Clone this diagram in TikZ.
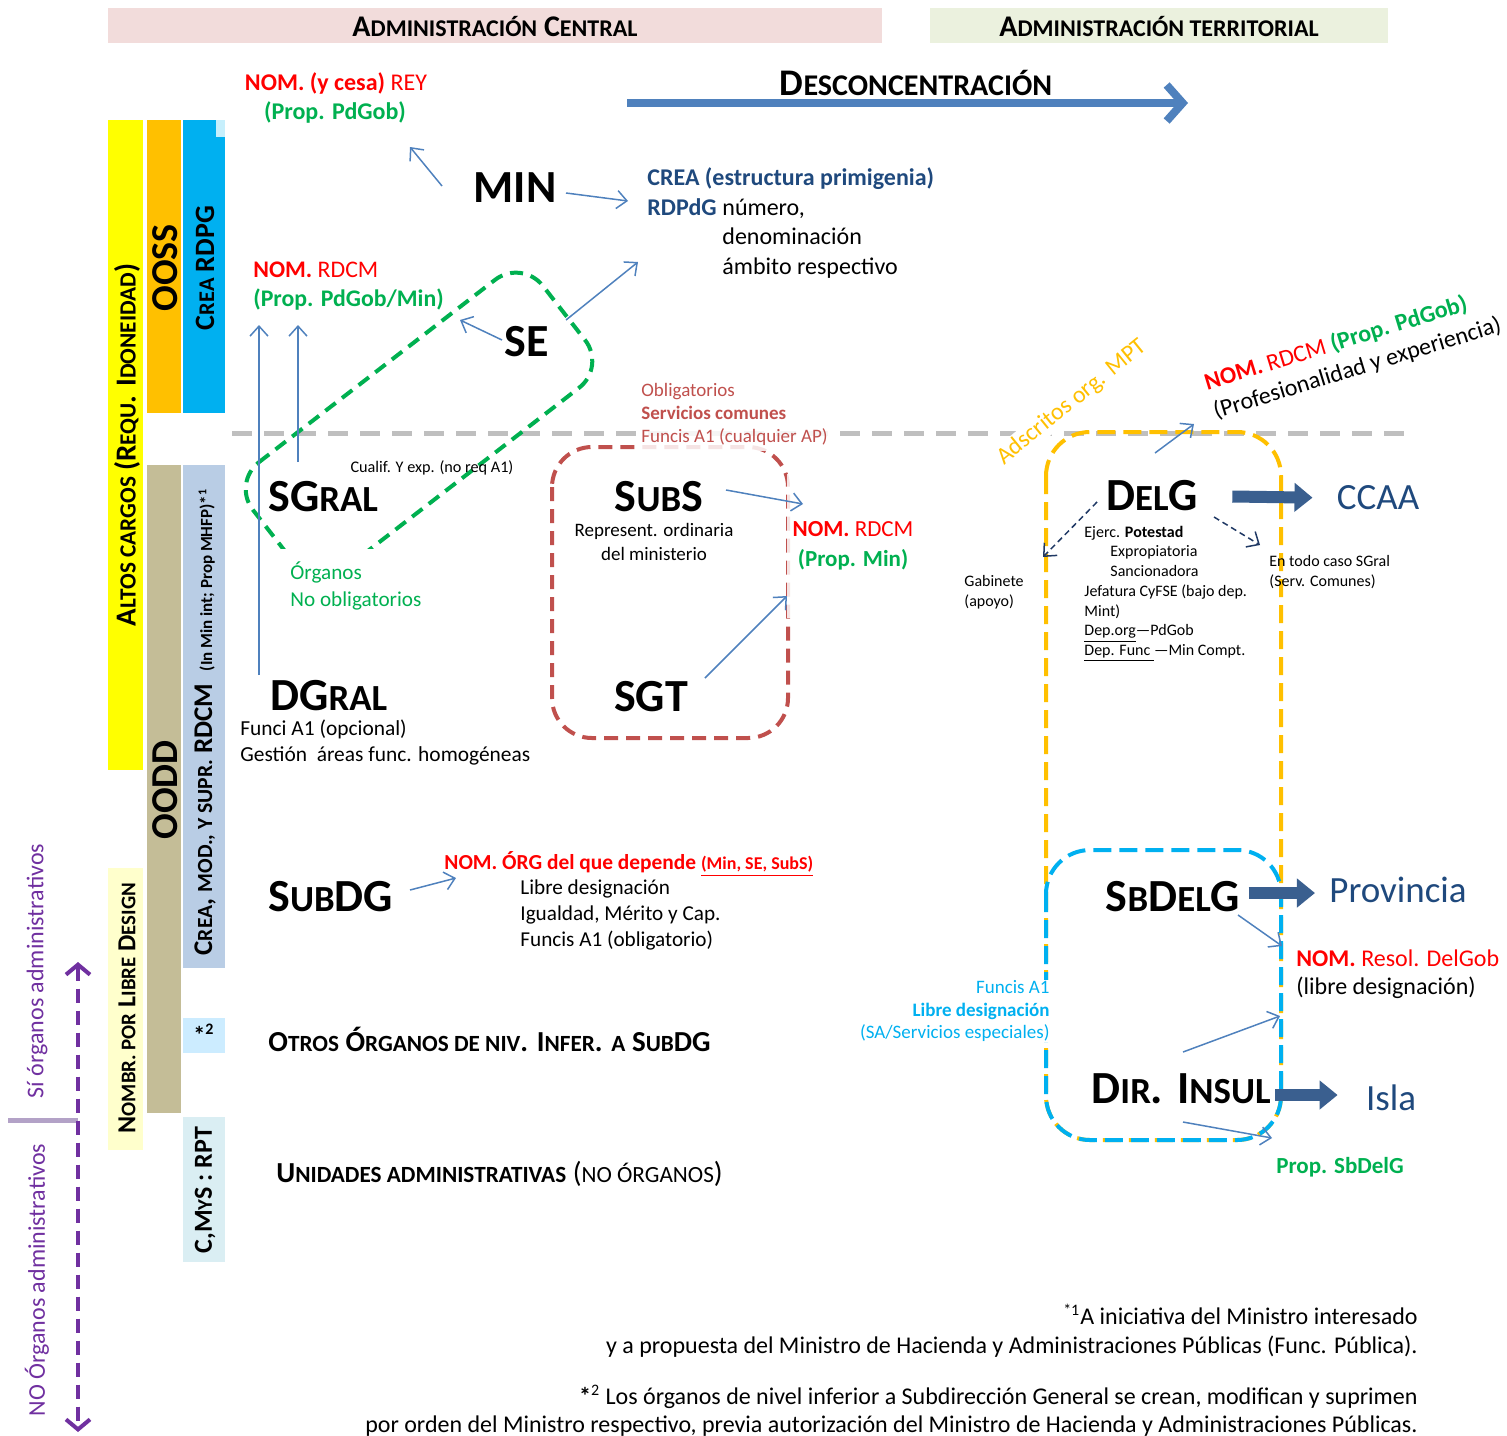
\documentclass[tikz,border=0pt]{standalone}
\usepackage{fontspec}
\setmainfont{Carlito}
\usetikzlibrary{arrows.meta}

\definecolor{hdrpink}{HTML}{F2DCDB}
\definecolor{hdrgreen}{HTML}{EBF1DE}
\definecolor{cyellow}{HTML}{FFFF00}
\definecolor{corange}{HTML}{FFC000}
\definecolor{ccyan}{HTML}{00B0F0}
\definecolor{cpalecyan}{HTML}{C6EFFC}
\definecolor{ctan}{HTML}{C4BD97}
\definecolor{csteel}{HTML}{B9CDE5}
\definecolor{cpale}{HTML}{FFFFCC}
\definecolor{cstar}{HTML}{CCECFF}
\definecolor{crpt}{HTML}{DAEEF3}
\definecolor{nomred}{HTML}{FF0000}
\definecolor{propgreen}{HTML}{00B050}
\definecolor{navy}{HTML}{1F497D}
\definecolor{brick}{HTML}{C0504D}
\definecolor{arrblue}{HTML}{4F81BD}
\definecolor{fatblue}{HTML}{3A5F8F}
\definecolor{dashnavy}{HTML}{1F3864}
\definecolor{purp}{HTML}{7030A0}
\definecolor{lilac}{HTML}{B3A2C7}
\definecolor{greyline}{HTML}{BFBFBF}

% fake small caps
\newcommand\sck[1]{\scalebox{0.8}{#1}}

\begin{document}
\begin{tikzpicture}[x=0.5pt, y=-0.5pt,
    big/.style={font=\fontsize{23}{26}\selectfont\bfseries, inner sep=0pt},
    body/.style={font=\fontsize{11.5}{14.7}\selectfont, align=left, inner sep=0pt},
    note/.style={font=\fontsize{8}{9.85}\selectfont, align=left, inner sep=0pt},
    mid/.style={font=\fontsize{9.5}{11.5}\selectfont, align=left, inner sep=0pt},
    sc/.style={font=\fontsize{15}{18}\selectfont\bfseries, inner sep=0pt},
    barlabel/.style={rotate=90, font=\fontsize{#1}{#1}\selectfont\bfseries, inner sep=0pt},
    place/.style={font=\fontsize{18.5}{22}\selectfont, text=navy, inner sep=0pt},
    veil/.style={fill=white, fill opacity=0.85, text opacity=1},
    link/.style={draw=arrblue, line width=0.75pt, -{Straight Barb[length=5pt,width=9pt]}},
    hint/.style={draw=dashnavy, line width=0.75pt, dash pattern=on 3pt off 2pt, -{Straight Barb[length=5pt,width=9pt]}},
    fat/.style={draw=fatblue, line width=6pt, -{Triangle[length=9pt,width=14pt]}},
    ]
\useasboundingbox (0,0) rectangle (1507,1435);

% headers
\fill[hdrpink] (108,8) rectangle (882,43);
\fill[hdrgreen] (930,8) rectangle (1388,43);

% left bars
\fill[cyellow] (108,120) rectangle (143,770);
\fill[corange] (147,120) rectangle (181,413);
\fill[ccyan] (183,120) rectangle (225,413);
\fill[cpalecyan] (216,120) rectangle (225,137);
\fill[ctan] (147,465) rectangle (181,1113);
\fill[csteel] (183,465) rectangle (225,968);
\fill[cpale] (108,868) rectangle (143,1150);
\fill[cstar] (183,1018) rectangle (225,1053);
\fill[crpt] (183,1117) rectangle (225,1262);

% level line
\draw[greyline, line width=2.5pt, dash pattern=on 10pt off 6pt] (232,433) -- (1405,433);

% groups
\begin{scope}
  \clip (0,0) rectangle (1507,548);
  \draw[propgreen, line width=2pt, dash pattern=on 6.5pt off 4pt, rounded corners=17pt]
    (232,483) -- (522,259) -- (606,367) -- (316,591) -- cycle;
\end{scope}
\draw[brick, line width=2pt, dash pattern=on 7pt off 4pt, rounded corners=20pt] (552,447) rectangle (788,738);
\draw[corange, line width=2pt, dash pattern=on 9pt off 4pt, rounded corners=22pt] (1046,432) rectangle (1281,1140);
\draw[ccyan, line width=2pt, dash pattern=on 9pt off 4pt, rounded corners=22pt] (1046,850) rectangle (1281,1140);

% si / no organos
\draw[lilac, line width=2.5pt] (8,1120) -- (78,1120);
\coordinate (siTop) at (78,962);
\coordinate (noBot) at (78,1432);
\draw[purp, line width=2pt, dash pattern=on 7pt off 4pt,
  {Straight Barb[length=5pt,width=12pt]}-{Straight Barb[length=5pt,width=12pt]}] (siTop) -- (noBot);
\node[rotate=90, text=purp, font=\fontsize{12}{12}\selectfont, inner sep=0pt] (si) at (37,971) {Sí órganos administrativos};
\node[rotate=90, text=purp, font=\fontsize{12}{12}\selectfont, inner sep=0pt] (no) at (37,1280) {NO Órganos administrativos};

% bar labels
\node[barlabel=14.5] (altos) at (127,445) {A\sck{LTOS CARGOS} (R\sck{EQU}. I\sck{DONEIDAD})};
\node[barlabel=19] (ooss) at (165,268) {OOSS};
\node[barlabel=14] (rdpg) at (205,268) {C\sck{REA} RDPG};
\node[barlabel=19] (oodd) at (165,790) {OODD};
\node[barlabel=13.5] (rdcm) at (205,722) {C\sck{REA}, \sck{MOD., Y SUPR.} RDCM\ \ {\fontsize{8.5}{8.5}\selectfont(In Min int; Prop MHFP)*\textsuperscript{1}}};
\node[barlabel=13] (libre) at (127,1008) {N\sck{OMBR. POR} L\sck{IBRE} D\sck{ESIGN}};
\node[font=\fontsize{12}{12}\selectfont\bfseries, inner sep=0pt] (star2) at (204,1034) {*\textsuperscript{2}};
\node[barlabel=13] (rpt) at (205,1190) {C,M\sck{Y}S : RPT};

% headers text
\node[sc] (central) at (495,27) {A\sck{DMINISTRACIÓN} C\sck{ENTRAL}};
\node[sc] (territorial) at (1159,27) {A\sck{DMINISTRACIÓN TERRITORIAL}};
\node[sc, font=\fontsize{18.8}{22}\selectfont\bfseries] (desc) at (916,83) {D\sck{ESCONCENTRACIÓN}};
\coordinate (descA) at (627,103);
\coordinate (descB) at (1188,103);
\draw[arrblue, line width=4pt, -{Straight Barb[length=8pt,width=18pt]}] (descA) -- (descB);

% central administration
\node[font=\fontsize{12}{14}\selectfont, text=nomred, inner sep=0pt] (rey) at (336,83) {\textbf{NOM. (y cesa)} REY};
\node[font=\fontsize{12}{14}\selectfont\bfseries, text=propgreen, inner sep=0pt] (reyprop) at (335,112) {(Prop. PdGob)};
\node[big] (min) at (515,188) {MIN};
\node[body, font=\fontsize{12}{14.7}\selectfont, anchor=west] (crea) at (647,223) {\textcolor{navy}{\textbf{CREA (estructura primigenia)}}\\
  \makebox[37.5pt][l]{\textcolor{navy}{\textbf{RDPdG}}}número,\\
  \hspace*{37.5pt}denominación\\
  \hspace*{37.5pt}ámbito respectivo};
\node[body, font=\fontsize{11.9}{14.5}\selectfont, anchor=west] (nomse) at (253,286) {\textcolor{nomred}{\textbf{NOM.} RDCM}\\\textcolor{propgreen}{\textbf{(Prop. PdGob/Min)}}};
\node[big] (se) at (527,342) {SE};
\node[big, anchor=west] (sgral) at (268,497) {SG\sck{RAL}};
\node[font=\fontsize{8.1}{10}\selectfont, inner sep=0pt] (cualif) at (432,468) {Cualif. Y exp. (no req A1)};
\node[body, font=\fontsize{10.6}{13.5}\selectfont, text=propgreen, anchor=west] (organos) at (290,586) {Órganos\\No obligatorios};
\node[big, anchor=west] (dgral) at (270,696) {DG\sck{RAL}};
\node[body, font=\fontsize{10.7}{13}\selectfont, anchor=west] (funci) at (240,742) {Funci A1 (opcional)\\Gestión\ \ áreas func. homogéneas};
\node[mid, veil, inner ysep=3pt, text=brick, anchor=west] (oblig) at (641,414) {Obligatorios\\\textbf{Servicios comunes}\\Funcis A1 (cualquier AP)};
\node[big] (subs) at (659,497) {S\sck{UB}S};
\node[mid, align=center, font=\fontsize{9.5}{12}\selectfont] (repres) at (654,542) {Represent. ordinaria\\del ministerio};
\node[big] (sgt) at (651,697) {SGT};
\node[body, veil, inner xsep=3pt, minimum height=72pt, align=center, font=\fontsize{11.5}{15}\selectfont] (nomsubs) at (853,546) {\textcolor{nomred}{\textbf{NOM.} RDCM}\\\textcolor{propgreen}{\textbf{(Prop. Min)}}};
\node[big, anchor=west] (subdg) at (268,897) {S\sck{UB}DG};
\node[font=\fontsize{10.7}{13}\selectfont\bfseries, text=nomred, inner sep=0pt, anchor=west] (nomorg) at (444,864) {NOM. ÓRG del que depende {\fontsize{9}{9}\selectfont\underline{(Min, SE, SubS)}}};
\node[body, font=\fontsize{10.6}{13}\selectfont, anchor=west] (libredes) at (520,915) {Libre designación\\Igualdad, Mérito y Cap.\\Funcis A1 (obligatorio)};
\node[sc, font=\fontsize{14.5}{17}\selectfont\bfseries, anchor=west] (otros) at (268,1039) {O\sck{TROS} Ó\sck{RGANOS DE NIV}. I\sck{NFER}. \sck{A} S\sck{UB}DG};
\node[sc, font=\fontsize{14.5}{17}\selectfont\bfseries, anchor=west] (unidades) at (276,1174) {U\sck{NIDADES ADMINISTRATIVAS} {\mdseries(\sck{NO ÓRGANOS})}};

% territorial administration
\node[rotate=39, text=corange, fill=white, inner sep=1pt, font=\fontsize{12}{12}\selectfont] (adscritos) at (1072,402) {Adscritos org. MPT};
\node[rotate=17, body, font=\fontsize{12}{15}\selectfont, anchor=south west] (nomdelg) at (1217,423) {\textcolor{nomred}{\textbf{NOM.} RDCM} \textcolor{propgreen}{\textbf{(Prop. PdGob)}}\\(Profesionalidad y experiencia)};
\node[big] (delg) at (1152,496) {D\sck{EL}G};
\node[place] (ccaa) at (1378,498) {CCAA};
\node[note, anchor=west] (potestad) at (1084,594) {Ejerc. \textbf{Potestad}\\
  \hspace*{13pt}Expropiatoria\\
  \hspace*{13pt}Sancionadora\\
  Jefatura CyFSE (bajo dep.\\
  Mint)\\
  \underline{Dep.org}—PdGob\\
  \underline{Dep. Func }—Min Compt.};
\node[note, anchor=west] (gabinete) at (964,592) {Gabinete\\(apoyo)};
\node[note, anchor=west] (todocaso) at (1269,572) {En todo caso SGral\\(Serv. Comunes)};
\node[big] (sbdelg) at (1173,897) {S\sck{B}D\sck{EL}G};
\node[place] (provincia) at (1398,890) {Provincia};
\node[body, font=\fontsize{12}{14}\selectfont, anchor=west] (resol) at (1296,974) {\textcolor{nomred}{\textbf{NOM.} Resol. DelGob}\\(libre designación)};
\node[mid, align=right, text=ccyan, anchor=east, fill=white, font=\fontsize{9.5}{11.25}\selectfont] (funcis) at (1050,1011) {Funcis A1\\\textbf{Libre designación}\\(SA/Servicios especiales)};
\node[big] (dirinsul) at (1181,1089) {D\sck{IR}. I\sck{NSUL}};
\node[place] (isla) at (1391,1098) {Isla};
\node[font=\fontsize{11.5}{14}\selectfont\bfseries, text=propgreen, inner sep=0pt] (propsb) at (1340,1167) {Prop. SbDelG};

% footnotes
\node[body, align=right, anchor=east, font=\fontsize{12}{14.5}\selectfont] (nota1) at (1418,1331) {\textsuperscript{*1}A iniciativa del Ministro interesado\\y a propuesta del Ministro de Hacienda y Administraciones Públicas (Func. Pública).};
\node[body, align=right, anchor=east, font=\fontsize{12}{14}\selectfont] (nota2) at (1418,1411) {\textbf{*}\textsuperscript{2} Los órganos de nivel inferior a Subdirección General se crean, modifican y suprimen\\por orden del Ministro respectivo, previa autorización del Ministro de Hacienda y Administraciones Públicas.};

% arrow ends
\coordinate (minA) at (442,186);  \coordinate (reyT) at (410,147);
\coordinate (minB) at (566,193);  \coordinate (creaT) at (628,201);
\coordinate (seA) at (566,320);   \coordinate (creaU) at (638,262);
\coordinate (seB) at (502,340);   \coordinate (nomseT) at (460,320);
\coordinate (dgA) at (259,675);   \coordinate (dgT) at (259,325);
\coordinate (sgA) at (298,462);   \coordinate (sgT) at (298,325);
\coordinate (subsA) at (726,490); \coordinate (subsT) at (803,504);
\coordinate (sgtA) at (705,678);  \coordinate (sgtT) at (787,596);
\coordinate (subdgA) at (410,890); \coordinate (subdgT) at (456,878);
\coordinate (delgA) at (1155,453); \coordinate (delgT) at (1194,424);
\coordinate (delgL) at (1097,502); \coordinate (gabT) at (1043,557);
\coordinate (delgR) at (1214,517); \coordinate (todoT) at (1260,545);
\coordinate (sbA) at (1238,915);  \coordinate (sbT) at (1282,946);
\coordinate (diA) at (1183,1052); \coordinate (diT) at (1280,1016);
\coordinate (diB) at (1183,1122); \coordinate (diU) at (1272,1138);

\draw[link] (minA) -- (reyT);
\draw[link] (minB) -- (creaT);
\draw[link] (seA) -- (creaU);
\draw[link] (seB) -- (nomseT);
\draw[link] (dgA) -- (dgT);
\draw[link] (sgA) -- (sgT);
\draw[link] (subsA) -- (subsT);
\draw[link] (sgtA) -- (sgtT);
\draw[link] (subdgA) -- (subdgT);
\draw[link] (delgA) -- (delgT);
\draw[hint] (delgL) -- (gabT);
\draw[hint] (delgR) -- (todoT);
\draw[link] (sbA) -- (sbT);
\draw[link] (diA) -- (diT);
\draw[link] (diB) -- (diU);

\draw[fat, shorten <=17pt, shorten >=12pt] (delg.east) -- (ccaa.west);
\draw[fat, shorten <=4pt, shorten >=7pt] ([yshift=2pt]sbdelg.east) -- ([yshift=-1.5pt]provincia.west);
\draw[fat, shorten <=2pt, shorten >=14pt] ([yshift=-3pt]dirinsul.east) -- ([yshift=1.5pt]isla.west);
\end{tikzpicture}
\end{document}
